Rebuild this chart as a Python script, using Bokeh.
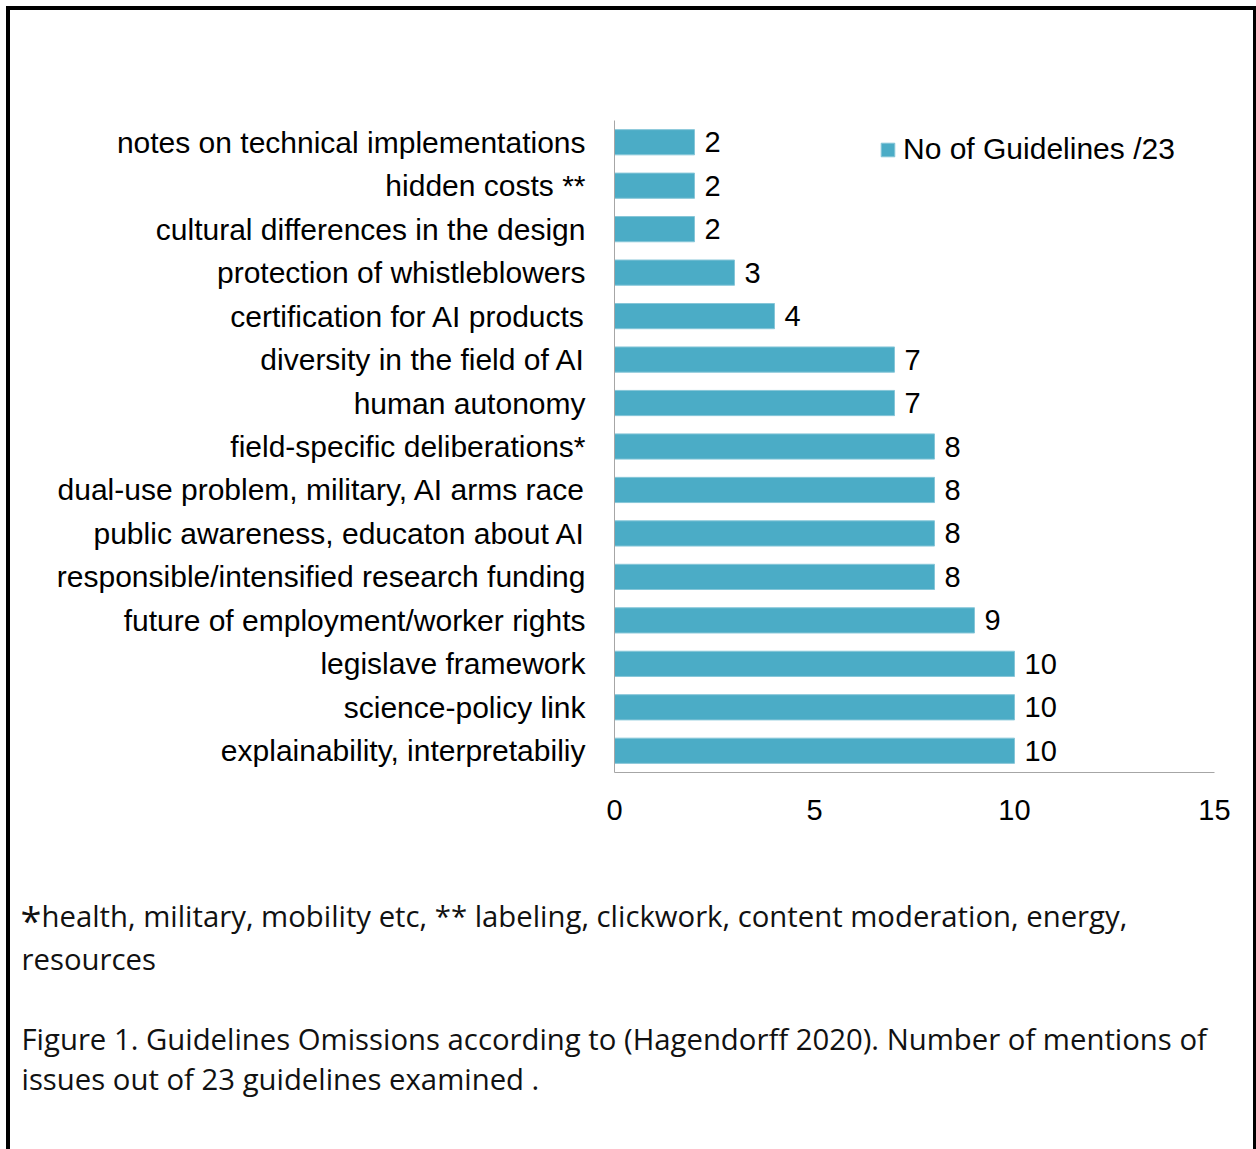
from bokeh.plotting import figure
from bokeh.layouts import column
from bokeh.models import (ColumnDataSource, FactorRange, Range1d, Label,
                          FixedTicker, LabelSet)
from bokeh.core.properties import value
from bokeh.embed import file_html
from bokeh.resources import INLINE

categories = [
    "notes on technical implementations",
    "hidden costs **",
    "cultural differences in the design",
    "protection of whistleblowers",
    "certification for AI products",
    "diversity in the field of AI",
    "human autonomy",
    "field-specific deliberations*",
    "dual-use problem, military, AI arms race",
    "public awareness, educaton about AI",
    "responsible/intensified research funding",
    "future of employment/worker rights",
    "legislave framework",
    "science-policy link",
    "explainability, interpretabiliy",
]
counts = [2, 2, 2, 3, 4, 7, 7, 8, 8, 8, 8, 9, 10, 10, 10]
series_name = "No of Guidelines /23"
x_ticks = [0, 5, 10, 15]
footnote_star = "*"
footnote_line1 = "health, military, mobility etc, ** labeling, clickwork, content moderation, energy,"
footnote_line2 = "resources"
caption_line1 = "Figure 1. Guidelines Omissions according to (Hagendorff 2020). Number of mentions of"
caption_line2 = "issues out of 23 guidelines examined ."

# page geometry (canvas px of the reference)
OX, OY = 10, 10            # inner origin after the black frame
INNER_W = 1243
CHART_H = 860
TEXT_H = 1149 - OY - CHART_H
FL, FR, FT, FB = 614, 1214, 120, 772  # plot frame edges in page px

source = ColumnDataSource(dict(cat=categories, val=counts,
                               lbl=[str(v) for v in counts]))

p = figure(width=INNER_W, height=CHART_H, output_backend="svg", toolbar_location=None,
           y_range=FactorRange(factors=list(reversed(categories)), range_padding=0),
           x_range=Range1d(0, 15),
           min_border_left=FL - OX, min_border_right=OX + INNER_W - FR,
           min_border_top=FT - OY, min_border_bottom=OY + CHART_H - FB)
p.frame_align = False
p.outline_line_color = None
p.background_fill_color = "white"
p.border_fill_color = "white"
p.xgrid.grid_line_color = None
p.ygrid.grid_line_color = None

p.hbar(y="cat", right="val", left=0, height=0.58, source=source,
       fill_color="#4BACC6", line_color="#86C6D8", line_width=1,
       legend_label=series_name)

labels = LabelSet(x="val", y="cat", text="lbl", source=source, x_offset=10,
                  text_baseline="middle", text_font=value("Liberation Sans"),
                  text_font_size="29px", text_color="black")
p.add_layout(labels)

axis_gray = "#A6A6A6"
p.xaxis.ticker = FixedTicker(ticks=x_ticks)
p.xaxis.axis_line_color = axis_gray
p.xaxis.major_tick_line_color = None
p.xaxis.minor_tick_line_color = None
p.xaxis.major_tick_out = 0
p.xaxis.major_tick_in = 0
p.xaxis.major_label_standoff = 27
p.xaxis.major_label_text_font = "Liberation Sans"
p.xaxis.major_label_text_font_size = "29px"
p.xaxis.major_label_text_color = "black"

p.yaxis.axis_line_color = axis_gray
p.yaxis.major_tick_line_color = None
p.yaxis.minor_tick_line_color = None
p.yaxis.major_tick_out = 0
p.yaxis.major_tick_in = 0
p.yaxis.major_label_standoff = 29
p.yaxis.major_label_text_font = "Liberation Sans"
p.yaxis.major_label_text_font_size = "30px"
p.yaxis.major_label_text_color = "black"

leg = p.legend[0]
leg.location = (879 - FL, FB - 166)
leg.glyph_width = 17
leg.glyph_height = 17
leg.label_text_font = "Liberation Sans"
leg.label_text_font_size = "30px"
leg.label_text_color = "black"
leg.label_standoff = 7
leg.padding = 0
leg.margin = 0
leg.spacing = 0
leg.border_line_color = None
leg.background_fill_alpha = 0

# text panel below the chart; its frame fills the whole panel, y grows downward
t = figure(width=INNER_W, height=TEXT_H, output_backend="svg", toolbar_location=None,
           x_range=Range1d(0, INNER_W), y_range=Range1d(TEXT_H, 0),
           x_axis_location=None, y_axis_location=None,
           min_border_left=0, min_border_right=0, min_border_top=0, min_border_bottom=0)
t.frame_align = False
t.outline_line_color = None
t.xgrid.grid_line_color = None
t.ygrid.grid_line_color = None
t.background_fill_color = "white"
t.border_fill_color = "white"

TOP = OY + CHART_H

def add_text(px, py, txt, size):
    t.add_layout(Label(x=px - OX, y=py - TOP, text=txt, text_font="Open Sans",
                       text_font_size=size, text_color="#111111",
                       text_baseline="alphabetic"))

add_text(20, 919, footnote_star, "38px")
add_text(41, 915, footnote_line1, "29.3px")
add_text(21, 958, footnote_line2, "29.3px")
add_text(21, 1038, caption_line1, "29.3px")
add_text(21, 1078, caption_line2, "29.3px")

layout = column(p, t, spacing=0,
                styles={"margin-left": "6px", "margin-top": "6px",
                        "border-left": "4px solid black",
                        "border-top": "4px solid black",
                        "border-right": "3px solid black",
                        "background-color": "white"})

open("out.html", "w").write(file_html(layout, INLINE))
